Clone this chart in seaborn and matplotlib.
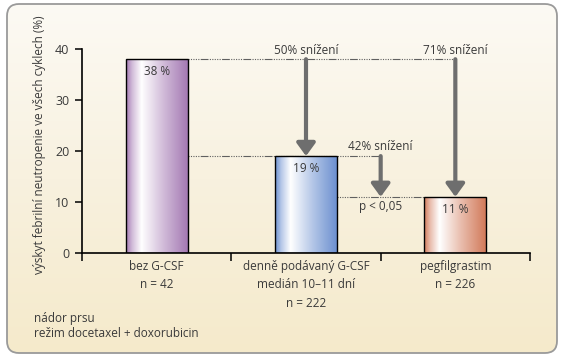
import numpy as np
import matplotlib
matplotlib.use('Agg')
import matplotlib.pyplot as plt
from matplotlib.colors import LinearSegmentedColormap
from matplotlib.patches import FancyBboxPatch
import seaborn as sns

# data
categories = ['bez G-CSF', 'denně podávaný G-CSF', 'pegfilgrastim']
values = [38, 19, 11]
tick_labels = ['bez G-CSF\nn = 42',
               'denně podávaný G-CSF\nmedián 10–11 dní\nn = 222',
               'pegfilgrastim\nn = 226']
bar_colors = ['#a479b3', '#6c90d0', '#d27a5a']
reductions = ['50% snížení', '71% snížení', '42% snížení']
footnote = 'nádor prsu\nrežim docetaxel + doxorubicin'
ylabel = 'výskyt febrilní neutropenie ve všech cyklech (%)'

TXT = '#3a3a3a'
ARROW = '#6e6e6e'
DOT = '#606060'

sns.set_theme(style='white')
plt.rcParams['font.family'] = ['Open Sans', 'DejaVu Sans']

W, H = 563, 360
fig = plt.figure(figsize=(W / 100, H / 100), dpi=100)
fig.patch.set_facecolor('white')

# rounded beige panel with vertical gradient
bg = fig.add_axes([0, 0, 1, 1], zorder=-1)
bg.set_xlim(0, W)
bg.set_ylim(H, 0)
bg.axis('off')
r = 12
x0, y0, x1, y1 = 7, 4, 557, 353
panel = FancyBboxPatch((x0 + r, y0 + r), (x1 - x0) - 2 * r, (y1 - y0) - 2 * r,
                       boxstyle=f'round,pad={r}', facecolor='none',
                       edgecolor='#9a9a9a', lw=1.3, zorder=3)
bg.add_patch(panel)
bg_cmap = LinearSegmentedColormap.from_list('bg', ['#fcfaf4', '#f8f1df', '#f5eacb'])
grad = np.linspace(0, 1, 256).reshape(-1, 1)
im = bg.imshow(grad, extent=[x0, x1, y1, y0], aspect='auto', cmap=bg_cmap, zorder=1)
im.set_clip_path(panel)

# main axes
ax = fig.add_axes([82 / W, 1 - 253 / H, 448 / W, 204 / H])
ax.patch.set_alpha(0)
sns.barplot(x=categories, y=values, hue=categories, palette=bar_colors,
            width=0.415, edgecolor='black', linewidth=1.0, legend=False, ax=ax)
ax.set_xlim(-0.5, 2.5)
ax.set_ylim(0, 40)

# gradient fills inside each bar
for patch, c in zip(ax.patches, bar_colors):
    bx, by = patch.get_x(), patch.get_y()
    bw, bh = patch.get_width(), patch.get_height()
    cmap = LinearSegmentedColormap.from_list(
        'b', [(0, c), (0.1, sns.blend_palette([c, 'white'], 3)[1]),
              (0.25, '#ffffff'), (0.6, sns.blend_palette([c, 'white'], 3)[1]), (1, c)])
    g = np.linspace(0, 1, 256).reshape(1, -1)
    bim = ax.imshow(g, extent=[bx, bx + bw, by, by + bh], aspect='auto', cmap=cmap, zorder=2)
    bim.set_clip_path(patch)
    patch.set_facecolor('none')
    patch.set_zorder(3)
ax.set_xlim(-0.5, 2.5)
ax.set_ylim(0, 40)

# value labels inside bars
for i, v in enumerate(values):
    ax.text(i, v - 2.4, f'{v} %', ha='center', va='center', fontsize=8.5, color=TXT, zorder=4)

# dotted guide lines
half = 0.415 / 2
dots = (0, (1, 1.2, 1, 1.2, 1, 1.2, 1, 1.2, 1, 1.2, 7, 1.2))
ax.plot([half, 2], [values[0], values[0]], color=DOT, lw=0.8, ls=dots, zorder=1)
ax.plot([half, 1.5], [values[1], values[1]], color=DOT, lw=0.8, ls=dots, zorder=1)
ax.plot([1 + half, 2 - half], [values[2], values[2]], color=DOT, lw=0.8, ls=dots, zorder=1)

# reduction arrows
arrow_kw = dict(arrowstyle='-|>,head_length=0.55,head_width=0.4', lw=3, color=ARROW,
                shrinkA=0, shrinkB=0, mutation_scale=14)
ax.annotate('', xy=(1, values[1]), xytext=(1, values[0]), arrowprops=arrow_kw, zorder=5)
ax.annotate('', xy=(2, values[2]), xytext=(2, values[0]), arrowprops=arrow_kw, zorder=5)
ax.annotate('', xy=(1.5, values[2]), xytext=(1.5, values[1]), arrowprops=arrow_kw, zorder=5)

ax.text(1, 39.8, reductions[0], ha='center', va='center', fontsize=8.5, color=TXT, clip_on=False)
ax.text(2, 39.8, reductions[1], ha='center', va='center', fontsize=8.5, color=TXT, clip_on=False)
ax.text(1.5, 20.9, reductions[2], ha='center', va='center', fontsize=8.5, color=TXT)
ax.text(1.5, 9.2, 'p < 0,05', ha='center', va='center', fontsize=8.5, color=TXT)

# axes styling
sns.despine(ax=ax)
for s in ['left', 'bottom']:
    ax.spines[s].set_color('black')
    ax.spines[s].set_linewidth(1.2)
ax.set_yticks([0, 10, 20, 30, 40])
ax.tick_params(axis='y', direction='out', length=5, width=1.1, color='black',
               labelsize=9, labelcolor=TXT, left=True, pad=4)
ax.set_xticks([0, 1, 2])
ax.set_xticklabels(tick_labels, fontsize=8.5, color=TXT, linespacing=1.55)
ax.tick_params(axis='x', which='major', length=0, pad=5)
ax.set_xticks([-0.5, 0.5, 1.5, 2.5], minor=True)
ax.tick_params(axis='x', which='minor', direction='out', length=6, width=1.1,
               color='black', bottom=True)
ax.set_xlabel('')
ax.set_ylabel('')

fig.text(40 / W, 1 - 145 / H, ylabel, rotation=90, ha='center', va='center',
         fontsize=8.5, color=TXT)
fig.text(34 / W, 1 - 326 / H, footnote, ha='left', va='center', fontsize=8.5,
         color=TXT, linespacing=1.15)

fig.savefig('out.png', dpi=100)
